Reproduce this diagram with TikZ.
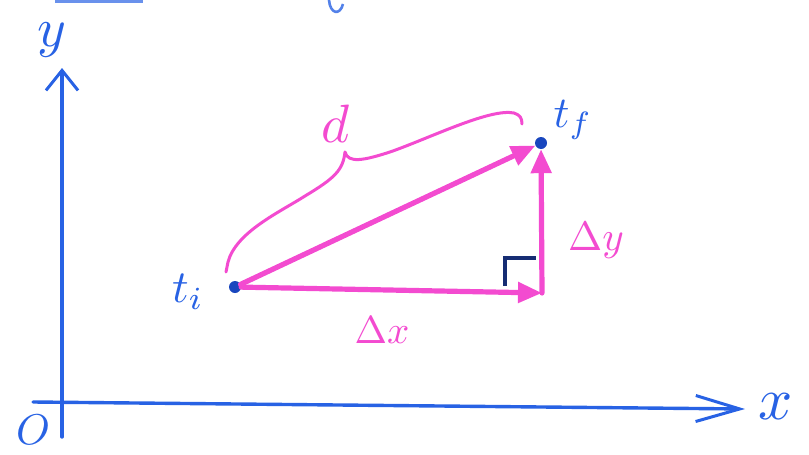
\documentclass[tikz,border=0pt]{standalone}
\usepackage{graphicx}
\usetikzlibrary{arrows.meta}
\definecolor{penblue}{RGB}{40,98,228}
\definecolor{dotblue}{RGB}{25,70,190}
\definecolor{penpink}{RGB}{243,75,208}
\definecolor{pennavy}{RGB}{22,45,115}
\newcommand{\hsz}[2]{\scalebox{#1}{$#2$}}
\begin{document}
\begin{tikzpicture}[x=1pt,y=-1pt,
  axisline/.style={penblue, line width=3.4pt, line cap=round},
  vec/.style={penpink, line width=5.2pt, line cap=round, -{Triangle[length=24pt,width=20pt]}},
  brace/.style={penpink, line width=3pt, line cap=round, line join=round},
  dot/.style={circle, fill=dotblue, inner sep=0pt, minimum size=12pt},
  lblue/.style={text=penblue, inner sep=0pt},
  lpink/.style={text=penpink, inner sep=0pt}]
\useasboundingbox (0,0) rectangle (809,455);
% fragments of text cut off at the top
\draw[penblue!70, line width=3pt] (55,1) -- (143,1);
\draw[penblue!80, line width=2.6pt] (329,0) .. controls (330,14) and (340,16) .. (343,4);
% axes
\coordinate (ybot) at (62,437);
\coordinate (ytop) at (62,68);
\coordinate (xleft) at (33,402);
\coordinate (xright) at (745,409);
\draw[axisline, -{Straight Barb[length=20pt,width=32pt,line width=3pt]}] (ybot) -- (ytop);
\draw[axisline, -{Straight Barb[length=44pt,width=26pt,line width=3pt]}] (xleft) -- (xright);
\node[lblue] (ylab) at (52,40) {\hsz{5.5}{y}};
\node[lblue] (xlab) at (776,407) {\hsz{6}{x}};
\node[lblue] (olab) at (33,430) {\hsz{4.3}{O}};
% points
\node[dot] (ti) at (235,287) {};
\node[dot] (tf) at (541,143) {};
\coordinate (c) at (542,293);
\node[lblue] (tilab) at (188,292) {\hsz{4.6}{t_i}};
\node[lblue] (tflab) at (573,120) {\hsz{4.4}{t_f}};
% vectors
\draw[vec] (ti) -- (c);
\draw[vec] (c) -- (tf);
\draw[vec] (ti) -- (tf);
% right angle mark
\draw[pennavy, line width=3.4pt] ([shift={(-37,-7)}]c) -- ([shift={(-37,-35)}]c) -- ([shift={(-6,-35)}]c);
% brace for d
\coordinate (bl) at (226,272);
\coordinate (bm) at (345,152);
\coordinate (br) at (522,124);
\draw[brace] (bl) -- (228,262) .. controls (236,232) and (280,212) .. (305,196)
  .. controls (335,178) and (343,170) .. (bm)
  (bm) .. controls (348,164) and (365,160) .. (390,152)
  .. controls (430,138) and (490,108) .. (514,113) .. controls (520,115) and (522,118) .. (br);
% labels
\node[lpink] (dlab) at (336,124) {\hsz{5.4}{d}};
\node[lpink] (dxlab) at (382,330) {\hsz{3.9}{\Delta x}};
\node[lpink] (dylab) at (596,240) {\hsz{4.1}{\Delta y}};
\end{tikzpicture}
\end{document}
